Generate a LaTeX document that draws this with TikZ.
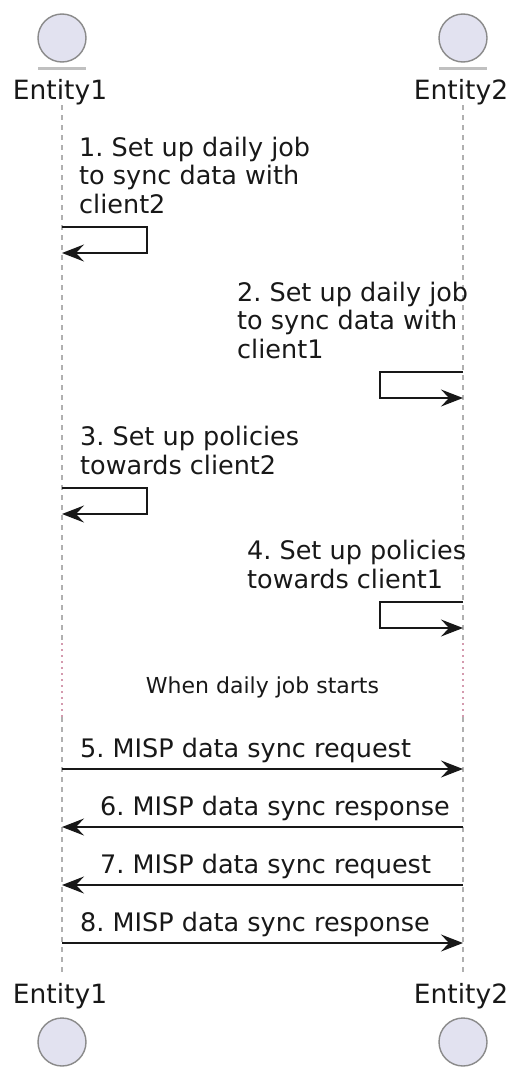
\documentclass[tikz,border=0pt]{standalone}
\usepackage{fontspec}
\setmainfont{DejaVu Sans}
\usetikzlibrary{arrows.meta}
\frenchspacing

\definecolor{headfill}{HTML}{E2E2F0}
\definecolor{headline}{HTML}{8A8A8A}
\definecolor{lifegray}{HTML}{B0B0B0}
\definecolor{delaypink}{HTML}{D49AAE}
\definecolor{inkdark}{HTML}{181818}

\begin{document}
\begin{tikzpicture}[x=1pt, y=-1pt,
		head/.style={circle, draw=headline, line width=1.4pt, fill=headfill,
				minimum size=48pt, inner sep=0pt},
		pname/.style={font=\fontsize{26.5}{30}\selectfont, text=inkdark, inner sep=0pt, anchor=base},
		headbar/.style={draw=lifegray!80, line width=3pt},
		lifeline/.style={draw=lifegray, line width=2pt, dash pattern=on 5pt off 5pt},
		delayline/.style={draw=delaypink, line width=2pt, dash pattern=on 2pt off 4pt},
		msg/.style={draw=inkdark, line width=1.5pt, -{Stealth[length=22pt, width=17pt, inset=8pt]}},
		msgtxt/.style={font=\fontsize{25.5}{28.5}\selectfont, text=inkdark, inner sep=0pt, align=left},
		delaytxt/.style={font=\fontsize{22}{26}\selectfont, text=inkdark, inner sep=0pt, anchor=base},
	]
	\useasboundingbox (0,0) rectangle (509,1068);

	% lifelines, broken by the delay
	\coordinate (l1top) at (62,105);   \coordinate (l2top) at (463,105);
	\coordinate (l1dly) at (62,643);   \coordinate (l2dly) at (463,643);
	\coordinate (l1end) at (62,717);   \coordinate (l2end) at (463,717);
	\coordinate (l1bot) at (62,975);   \coordinate (l2bot) at (463,975);
	\draw [lifeline] (l1top) -- (l1dly);
	\draw [lifeline] (l2top) -- (l2dly);
	\draw [delayline] (l1dly) -- (l1end);
	\draw [delayline] (l2dly) -- (l2end);
	\draw [lifeline] (l1end) -- (l1bot);
	\draw [lifeline] (l2end) -- (l2bot);

	% participants, top and bottom
	\node (e1head) [head] at (62,38) {};
	\node (e2head) [head] at (463,38) {};
	\draw [headbar] ([xshift=-24pt, yshift=-6pt]e1head.south) -- ([xshift=24pt, yshift=-6pt]e1head.south);
	\draw [headbar] ([xshift=-24pt, yshift=-6pt]e2head.south) -- ([xshift=24pt, yshift=-6pt]e2head.south);
	\node (e1name) [pname] at (60,99) {Entity1};
	\node (e2name) [pname] at (461,99) {Entity2};
	\node (e1fname) [pname] at (60,1003) {Entity1};
	\node (e2fname) [pname] at (461,1003) {Entity2};
	\node (e1foot) [head] at (62,1042) {};
	\node (e2foot) [head] at (463,1042) {};

	% 1. self message on Entity1
	\node (t1) [msgtxt, anchor=north west] at (79,136.5) {1. Set up daily job\\to sync data with\\client2};
	\coordinate (s1a) at (62,227); \coordinate (s1b) at (62,253);
	\draw [msg] (s1a) -- ++(85,0) |- (s1b);

	% 2. self message on Entity2
	\node (t2) [msgtxt, anchor=north west] at (237,281.5) {2. Set up daily job\\to sync data with\\client1};
	\coordinate (s2a) at (463,372); \coordinate (s2b) at (463,398);
	\draw [msg] (s2a) -- ++(-83,0) |- (s2b);

	% 3. self message on Entity1
	\node (t3) [msgtxt, anchor=north west] at (80,426) {3. Set up policies\\towards client2};
	\coordinate (s3a) at (62,488); \coordinate (s3b) at (62,514);
	\draw [msg] (s3a) -- ++(85,0) |- (s3b);

	% 4. self message on Entity2
	\node (t4) [msgtxt, anchor=north west] at (247,540) {4. Set up policies\\towards client1};
	\coordinate (s4a) at (463,602); \coordinate (s4b) at (463,628);
	\draw [msg] (s4a) -- ++(-83,0) |- (s4b);

	% delay
	\node (dly) [delaytxt] at (262.5,693) {When daily job starts};

	% 5.-8. sync exchange
	\coordinate (a5) at (62,769);  \coordinate (b5) at (463,769);
	\coordinate (a6) at (62,827);  \coordinate (b6) at (463,827);
	\coordinate (a7) at (62,885);  \coordinate (b7) at (463,885);
	\coordinate (a8) at (62,943);  \coordinate (b8) at (463,943);
	\node (t5) [msgtxt, anchor=base west] at (80,757.5) {5. MISP data sync request};
	\draw [msg] (a5) -- (b5);
	\node (t6) [msgtxt, anchor=base west] at (100,815.5) {6. MISP data sync response};
	\draw [msg] (b6) -- (a6);
	\node (t7) [msgtxt, anchor=base west] at (100,873.5) {7. MISP data sync request};
	\draw [msg] (b7) -- (a7);
	\node (t8) [msgtxt, anchor=base west] at (80,931.5) {8. MISP data sync response};
	\draw [msg] (a8) -- (b8);
\end{tikzpicture}
\end{document}
